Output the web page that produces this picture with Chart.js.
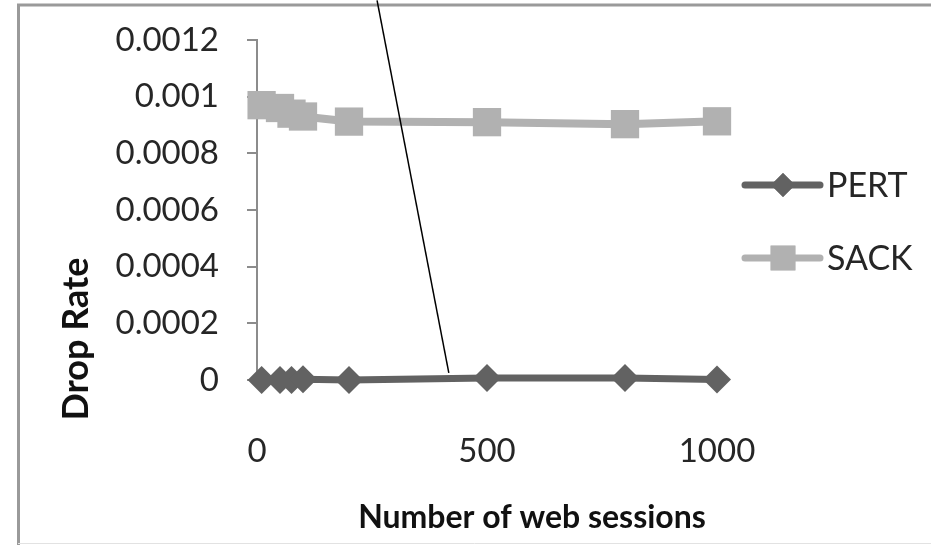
<!DOCTYPE html>
<html>
<head>
<meta charset="utf-8">
<title>Drop Rate</title>
<script src="https://cdn.jsdelivr.net/npm/chart.js@4.4.1/dist/chart.umd.min.js"></script>
<style>
  html, body { margin: 0; padding: 0; background: #fff; }
  .chart-box { width: 931px; height: 545px; }
</style>
</head>
<body>
<div class="chart-box"><canvas id="myChart" width="931" height="545"></canvas></div>
<script>
// data
const sessions = [10, 50, 75, 100, 200, 500, 800, 1000];
const pert = [0, 0, 0, 0.000003, 0, 0.000007, 0.000007, 0.000002];
const sack = [0.00097, 0.00096, 0.00094, 0.00093, 0.000912, 0.00091, 0.000903, 0.000913];
const seriesNames = ['PERT', 'SACK'];
const xTitle = 'Number of web sessions';
const yTitle = 'Drop Rate';
// the thin black pointer line (in chart units)
const pointerX = [261, 417];
const pointerY = [0.00134, 0.000025];

const pertColor = '#626262';
const sackColor = '#b1b1b1';
const axisColor = '#8c8c8c';
const textColor = '#262626';
const fontName = 'Lato, "Open Sans", sans-serif';

function toPoints(xs, ys) {
  return xs.map((x, i) => ({ x: x, y: ys[i] }));
}

// frame, titles and legend the way the spreadsheet drew them
const extras = {
  id: 'extras',
  beforeDraw(chart) {
    const ctx = chart.ctx;
    ctx.save();
    ctx.fillStyle = '#fff';
    ctx.fillRect(0, 0, chart.width, chart.height);
    ctx.strokeStyle = '#9a9a9a';
    ctx.lineWidth = 3;
    ctx.beginPath();
    ctx.moveTo(18.5, 545);
    ctx.lineTo(18.5, 5);
    ctx.lineTo(931, 5);
    ctx.stroke();
    ctx.strokeStyle = '#e2e2e2';
    ctx.lineWidth = 1;
    ctx.beginPath();
    ctx.moveTo(18, 543.5);
    ctx.lineTo(931, 543.5);
    ctx.stroke();
    ctx.restore();
  },
  afterDraw(chart) {
    const ctx = chart.ctx;
    const area = chart.chartArea;
    ctx.save();
    ctx.fillStyle = '#111';
    ctx.font = 'bold 32px ' + fontName;
    ctx.textAlign = 'center';
    ctx.textBaseline = 'middle';
    ctx.fillText(xTitle, 532, 518);
    ctx.font = 'bold 36px ' + fontName;
    ctx.translate(76, 339);
    ctx.rotate(-Math.PI / 2);
    ctx.fillText(yTitle, 0, 0);
    ctx.restore();

    // legend: line + marker + name
    const items = [
      { name: seriesNames[0], color: pertColor, style: 'rectRot', r: 12, y: 185 },
      { name: seriesNames[1], color: sackColor, style: 'rect', r: 17.5, y: 258 }
    ];
    const lx = area.right + 28;
    ctx.save();
    items.forEach(it => {
      ctx.strokeStyle = it.color;
      ctx.lineWidth = 7;
      ctx.lineCap = 'round';
      ctx.beginPath();
      ctx.moveTo(lx, it.y);
      ctx.lineTo(lx + 75, it.y);
      ctx.stroke();
      ctx.fillStyle = it.color;
      Chart.helpers.drawPoint(ctx, { pointStyle: it.style, radius: it.r, borderWidth: 0 }, lx + 38, it.y);
      ctx.fill();
      ctx.fillStyle = textColor;
      ctx.font = '34px ' + fontName;
      ctx.textAlign = 'left';
      ctx.textBaseline = 'middle';
      ctx.fillText(it.name, lx + 82, it.y + 1);
    });
    ctx.restore();
  }
};

const data = {
  datasets: [{
    label: 'pointer',
    data: toPoints(pointerX, pointerY),
    borderColor: '#000',
    borderWidth: 1.5,
    pointRadius: 0,
    clip: false
  }, {
    label: seriesNames[0],
    data: toPoints(sessions, pert),
    borderColor: pertColor,
    backgroundColor: pertColor,
    borderWidth: 7,
    pointStyle: 'rectRot',
    pointRadius: 14,
    pointBorderWidth: 0,
    clip: false
  }, {
    label: seriesNames[1],
    data: toPoints(sessions, sack),
    borderColor: sackColor,
    backgroundColor: sackColor,
    borderWidth: 8,
    pointStyle: 'rect',
    pointRadius: 20,
    pointBorderWidth: 0,
    clip: false
  }]
};

const config = {
  type: 'line',
  data,
  options: {
    responsive: false,
    animation: false,
    layout: { padding: { left: 0, top: 40, right: 214, bottom: 0 } },
    plugins: {
      legend: { display: false },
      tooltip: { enabled: false }
    },
    scales: {
      x: {
        type: 'linear',
        min: 0,
        max: 1000,
        afterFit(scale) { scale.height = 165; },
        grid: { display: false, drawTicks: false },
        border: { display: false },
        ticks: {
          stepSize: 500,
          padding: 52,
          color: textColor,
          font: { family: fontName, size: 33 },
          callback: v => String(v)
        }
      },
      y: {
        min: 0,
        max: 0.0012,
        afterFit(scale) {
          scale.width = 257;
          scale.paddingTop = 0;
          scale.paddingBottom = 0;
        },
        grid: { drawOnChartArea: false, drawTicks: true, tickLength: 10, color: axisColor, lineWidth: 2 },
        border: { display: true, color: axisColor, width: 2 },
        ticks: {
          stepSize: 0.0002,
          padding: 28,
          color: textColor,
          font: { family: fontName, size: 33 },
          callback: v => String(+v.toFixed(4))
        }
      }
    }
  },
  plugins: [extras]
};

const myChart = new Chart(document.getElementById('myChart'), config);
</script>
</body>
</html>
